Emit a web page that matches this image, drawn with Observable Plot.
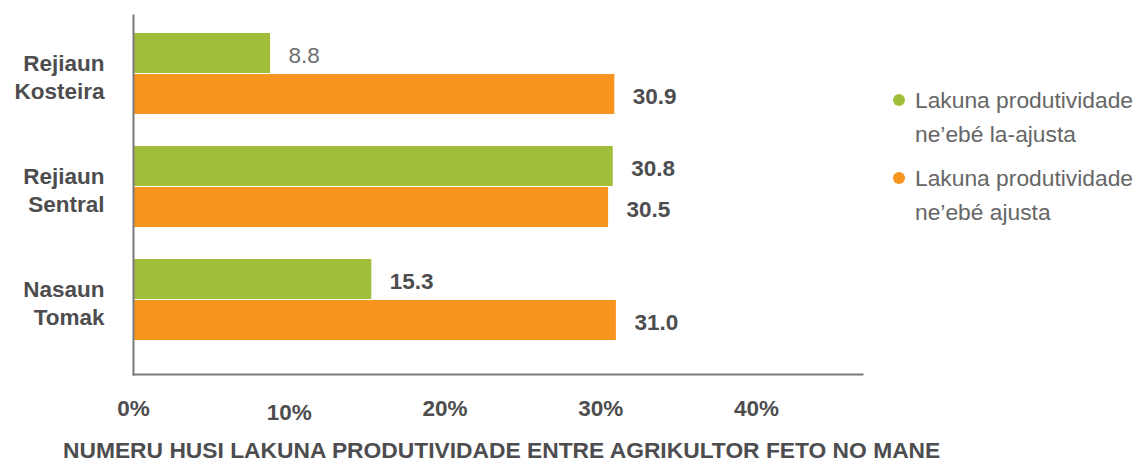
<!DOCTYPE html>
<html><head><meta charset="utf-8">
<script src="https://cdn.jsdelivr.net/npm/d3@7"></script>
<script src="https://cdn.jsdelivr.net/npm/@observablehq/plot@0.6"></script>
<style>
body{margin:0;background:#fff;font-family:"Liberation Sans",Arial,sans-serif;}
#wrap{position:relative;width:1146px;height:462px;overflow:hidden;}
#chart{position:absolute;left:0;top:0;}
#title{position:absolute;left:63px;top:436px;font-size:22.8px;font-weight:bold;color:#4d4d4f;line-height:28px;white-space:nowrap;}
#legend{position:absolute;left:893px;top:83px;}
.item{position:relative;padding-left:22px;font-size:22.8px;line-height:34px;color:#666;margin-bottom:10px;}
.dot{position:absolute;left:0;top:11px;width:12px;height:12px;border-radius:50%;}
</style></head><body><div id="wrap"><div id="chart"></div><div id="title"></div><div id="legend"></div></div>
<script>
const regions = ["Rejiaun\nKosteira", "Rejiaun\nSentral", "Nasaun\nTomak"];
const seriesNames = ["Lakuna produtividade ne’ebé la-ajusta", "Lakuna produtividade ne’ebé ajusta"];
const legendLines = [["Lakuna produtividade", "ne’ebé la-ajusta"], ["Lakuna produtividade", "ne’ebé ajusta"]];
const unadjusted = [8.8, 30.8, 15.3];
const adjusted = [30.9, 30.5, 31.0];
const xTicks = [0, 10, 20, 30, 40];
const colors = ["#A1BE3A", "#F7941E"];
const titleText = "NUMERU HUSI LAKUNA PRODUTIVIDADE ENTRE AGRIKULTOR FETO NO MANE";

const rows = regions.flatMap((r, i) => [
  {region: r, series: seriesNames[0], value: unadjusted[i]},
  {region: r, series: seriesNames[1], value: adjusted[i]}
]);
const green = rows.filter(d => d.series === seriesNames[0]);
const orange = rows.filter(d => d.series === seriesNames[1]);

const W = 880, H = 430, mT = 15, mB = 56, mL = 133, mR = 18;
const pInner = 0.28, pOuter = 0.215, align = 0.35;
const innerH = H - mT - mB;
const bw = innerH / (regions.length - pInner + 2 * pOuter) * (1 - pInner);

const textStyle = {fontSize: 22.5, fontWeight: "bold", fill: "#4d4d4f"};

const chart = Plot.plot({
  width: W, height: H,
  marginTop: mT, marginBottom: mB, marginLeft: mL, marginRight: mR,
  style: {fontFamily: '"Liberation Sans", Arial, sans-serif', background: "white"},
  x: {domain: [0, 46.8]},
  y: {domain: regions, paddingInner: pInner, paddingOuter: pOuter, align: align},
  color: {domain: seriesNames, range: colors},
  marks: [
    Plot.barX(green, {x: "value", y: "region", fill: "series", insetBottom: bw / 2}),
    Plot.barX(orange, {x: "value", y: "region", fill: "series", insetTop: bw / 2}),
    Plot.frame({anchor: "left", stroke: "#7a7a7a", strokeWidth: 2}),
    Plot.frame({anchor: "bottom", stroke: "#7a7a7a", strokeWidth: 2}),
    Plot.text(green.filter(d => d.value >= 10), {x: "value", y: "region", text: d => d.value.toFixed(1), textAnchor: "start", dx: 18, dy: -bw / 4 + 2, ...textStyle}),
    Plot.text(green.filter(d => d.value < 10), {x: "value", y: "region", text: d => d.value.toFixed(1), textAnchor: "start", dx: 18, dy: -bw / 4 + 2, fontSize: 22.5, fill: "#6d6e70"}),
    Plot.text(orange, {x: "value", y: "region", text: d => d.value.toFixed(1), textAnchor: "start", dx: 18, dy: bw / 4 + 2, ...textStyle}),
    Plot.axisX({ticks: xTicks.filter(t => t !== 10), tickSize: 0, tickPadding: 26, tickFormat: d => d + "%", label: null, ...textStyle}),
    Plot.axisX({ticks: xTicks.filter(t => t === 10), tickSize: 0, tickPadding: 30, tickFormat: d => d + "%", label: null, ...textStyle}),
    Plot.axisY({tickSize: 0, tickPadding: 29, label: null, lineHeight: 1.27, dy: 2, ...textStyle})
  ]
});
document.getElementById("chart").appendChild(chart);
document.getElementById("title").textContent = titleText;

const legend = document.getElementById("legend");
seriesNames.forEach((s, i) => {
  const item = document.createElement("div");
  item.className = "item";
  const dot = document.createElement("span");
  dot.className = "dot";
  dot.style.background = colors[i];
  item.appendChild(dot);
  legendLines[i].forEach(line => {
    const l = document.createElement("div");
    l.textContent = line;
    item.appendChild(l);
  });
  legend.appendChild(item);
});
</script></body></html>
